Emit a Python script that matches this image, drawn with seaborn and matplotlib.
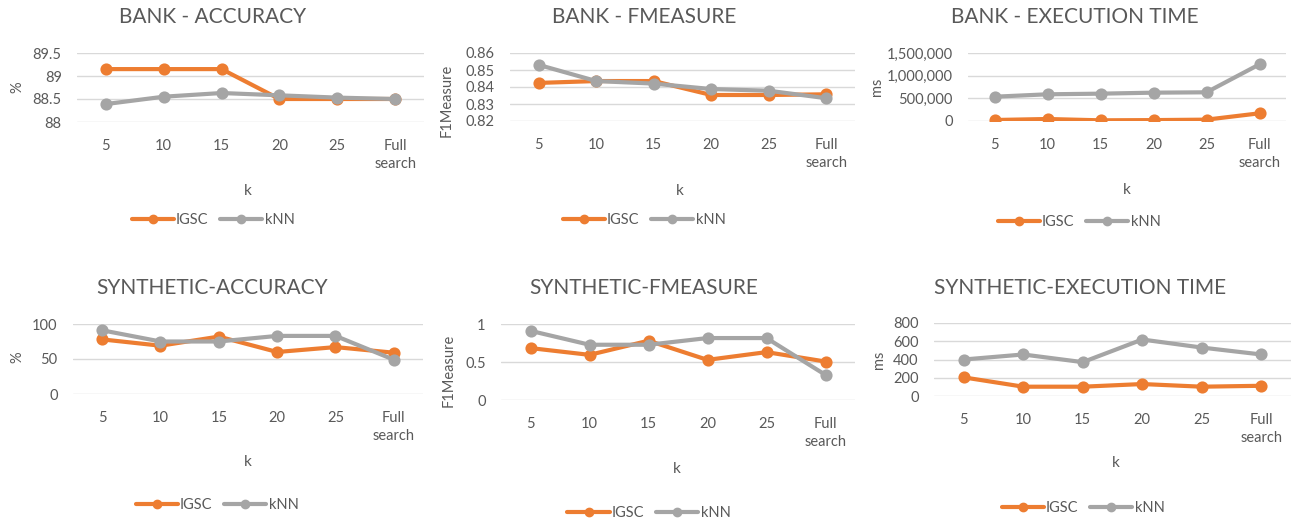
import matplotlib
matplotlib.use("Agg")
import matplotlib.pyplot as plt
from matplotlib.ticker import FuncFormatter
from matplotlib.lines import Line2D
import seaborn as sns
import pandas as pd

# ---- data -------------------------------------------------------------
k_values = ["5", "10", "15", "20", "25", "Full search"]
k_ticklabels = ["5", "10", "15", "20", "25", "Full\nsearch"]
methods = ["IGSC", "kNN"]

bank_acc_igsc = [89.15, 89.15, 89.15, 88.50, 88.50, 88.50]
bank_acc_knn = [88.39, 88.55, 88.63, 88.58, 88.53, 88.50]

bank_f1_igsc = [0.8424, 0.8435, 0.8435, 0.8353, 0.8353, 0.8357]
bank_f1_knn = [0.8530, 0.8435, 0.8420, 0.8388, 0.8378, 0.8334]

bank_time_igsc = [22000, 44000, 15000, 20000, 30000, 170000]
bank_time_knn = [536000, 589000, 603000, 625000, 633000, 1250000]

syn_acc_igsc = [78, 69, 82, 60, 67, 59]
syn_acc_knn = [91, 75, 75, 83, 83, 49]

syn_f1_igsc = [0.683, 0.594, 0.78, 0.528, 0.63, 0.506]
syn_f1_knn = [0.91, 0.727, 0.727, 0.815, 0.815, 0.33]

syn_time_igsc = [204, 102, 102, 131, 102, 112]
syn_time_knn = [400, 455, 371, 619, 531, 455]

# ---- style ------------------------------------------------------------
W, H = 1296, 521
ORANGE = "#ED7D31"
GRAY = "#A5A5A5"
TEXT = "#595959"
GRID = "#D9D9D9"
FONT = ["Lato", "DejaVu Sans"]

sns.set_theme(style="white")
plt.rcParams["font.family"] = FONT
plt.rcParams["text.color"] = TEXT
plt.rcParams["axes.labelcolor"] = TEXT
plt.rcParams["xtick.color"] = TEXT
plt.rcParams["ytick.color"] = TEXT

fig = plt.figure(figsize=(W / 100, H / 100), dpi=100)
fig.patch.set_facecolor("white")


def fx(px):
    return px / W


def fy(py):
    return 1 - py / H


fmt_g = FuncFormatter(lambda v, p: f"{v:g}")
fmt_comma = FuncFormatter(lambda v, p: f"{v:,.0f}")

panels = [
    dict(title="BANK - ACCURACY", ylabel="%", igsc=bank_acc_igsc, knn=bank_acc_knn,
         ylim=(88, 89.5), step=0.5, fmt=fmt_g,
         box=(77, 424, 53, 122), title_xy=(213, 17), ylab_xy=(17, 87),
         xlab_xy=(248, 191), leg_xy=(213, 220)),
    dict(title="BANK - FMEASURE", ylabel="F1Measure", igsc=bank_f1_igsc, knn=bank_f1_knn,
         ylim=(0.82, 0.86), step=0.01, fmt=fmt_g,
         box=(510, 855, 53, 121), title_xy=(644, 17), ylab_xy=(447, 100),
         xlab_xy=(680, 191), leg_xy=(644, 220)),
    dict(title="BANK - EXECUTION TIME", ylabel="ms", igsc=bank_time_igsc, knn=bank_time_knn,
         ylim=(0, 1500000), step=500000, fmt=fmt_comma,
         box=(968, 1286, 53, 121), title_xy=(1075, 17), ylab_xy=(877, 87),
         xlab_xy=(1127, 190), leg_xy=(1079, 222)),
    dict(title="SYNTHETIC-ACCURACY", ylabel="%", igsc=syn_acc_igsc, knn=syn_acc_knn,
         ylim=(0, 100), step=50, fmt=fmt_g,
         box=(73, 423, 324, 394), title_xy=(212, 288), ylab_xy=(17, 357),
         xlab_xy=(248, 462), leg_xy=(217, 505)),
    dict(title="SYNTHETIC-FMEASURE", ylabel="F1Measure", igsc=syn_f1_igsc, knn=syn_f1_knn,
         ylim=(0, 1), step=0.5, fmt=fmt_g,
         box=(501, 855, 324, 400), title_xy=(644, 288), ylab_xy=(449, 370),
         xlab_xy=(677, 469), leg_xy=(649, 513)),
    dict(title="SYNTHETIC-EXECUTION TIME", ylabel="ms", igsc=syn_time_igsc, knn=syn_time_knn,
         ylim=(0, 800), step=200, fmt=fmt_g,
         box=(934, 1291, 323, 396), title_xy=(1080, 288), ylab_xy=(879, 360),
         xlab_xy=(1116, 463), leg_xy=(1083, 508)),
]

legend_handles = [
    Line2D([], [], color=c, linewidth=3, marker="o", markersize=6)
    for c in (ORANGE, GRAY)
]

for p in panels:
    l, r, t, b = p["box"]
    ax = fig.add_axes([fx(l), fy(b), fx(r - l), (b - t) / H])
    df = pd.DataFrame({
        "k": k_values * 2,
        "value": p["igsc"] + p["knn"],
        "method": [methods[0]] * len(k_values) + [methods[1]] * len(k_values),
    })
    sns.pointplot(data=df, x="k", y="value", hue="method", order=k_values,
                  hue_order=methods, palette=[ORANGE, GRAY], markers="o",
                  linestyles="-", errorbar=None, markersize=6.5, linewidth=3,
                  ax=ax, legend=False, zorder=3)

    lo, hi = p["ylim"]
    ax.set_ylim(lo, hi)
    n = int(round((hi - lo) / p["step"]))
    ax.set_yticks([lo + i * p["step"] for i in range(n + 1)])
    ax.yaxis.set_major_formatter(p["fmt"])
    ax.set_xlim(-0.5, len(k_values) - 0.5)
    ax.set_xticks(range(len(k_values)))
    ax.set_xticklabels(k_ticklabels, linespacing=1.3)
    ax.tick_params(axis="y", length=0, pad=11, labelsize=10.5)
    ax.tick_params(axis="x", length=0, pad=12.5, labelsize=10.5)
    ax.grid(axis="y", color=GRID, linewidth=1, zorder=0)
    ax.set_axisbelow(True)
    for s in ax.spines.values():
        s.set_visible(False)
    ax.set_xlabel("")
    ax.set_ylabel("")

    fig.text(fx(p["title_xy"][0]), fy(p["title_xy"][1]), p["title"],
             ha="center", va="center", fontsize=15, color=TEXT)
    fig.text(fx(p["ylab_xy"][0]), fy(p["ylab_xy"][1]), p["ylabel"],
             ha="center", va="center", rotation=90, fontsize=10.5, color=TEXT)
    fig.text(fx(p["xlab_xy"][0]), fy(p["xlab_xy"][1]), "k",
             ha="center", va="center", fontsize=11, color=TEXT)
    fig.legend(legend_handles, methods, loc="center",
               bbox_to_anchor=(fx(p["leg_xy"][0]), fy(p["leg_xy"][1])),
               ncol=2, frameon=False, fontsize=10.5, handlelength=2.9,
               handletextpad=0.15, columnspacing=0.8)

fig.savefig("out.png", dpi=100, facecolor="white")
